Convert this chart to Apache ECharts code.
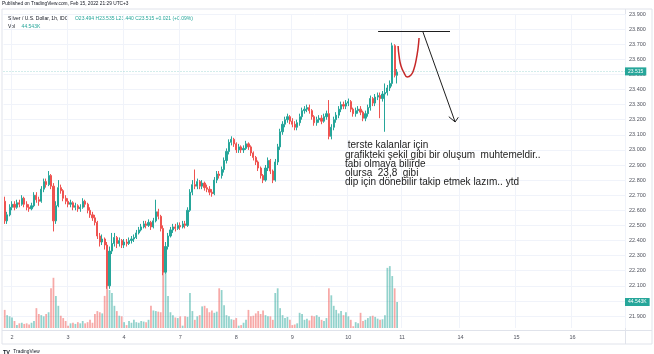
<!DOCTYPE html>
<html>
<head>
<meta charset="utf-8">
<script src="https://cdn.jsdelivr.net/npm/echarts@6/dist/echarts.min.js"></script>
<style>
html,body{margin:0;padding:0;background:#fff;}
#main{width:654px;height:354px;}
</style>
</head>
<body>
<div id="main"></div>
<script>
// Silver / U.S. Dollar, 1h, IDC - hourly candles
var firstOpen = 22.66
var closes = [
  22.53, 22.57, 22.62, 22.64, 22.62, 22.65, 22.64, 22.68, 22.64, 22.62,
  22.61, 22.63, 22.70, 22.67, 22.66, 22.74, 22.79, 22.77, 22.83, 22.76,
  22.53, 22.63, 22.75, 22.73, 22.68, 22.66, 22.64, 22.65, 22.62, 22.63,
  22.61, 22.62, 22.66, 22.64, 22.60, 22.57, 22.55, 22.52, 22.43, 22.39,
  22.41, 22.37, 22.10, 22.33, 22.38, 22.42, 22.38, 22.40, 22.37, 22.39,
  22.38, 22.40, 22.41, 22.42, 22.45, 22.47, 22.49, 22.51, 22.50, 22.52,
  22.49, 22.53, 22.59, 22.56, 22.48, 22.19, 22.36, 22.43, 22.47, 22.49,
  22.48, 22.50, 22.49, 22.51, 22.50, 22.60, 22.72, 22.77, 22.76, 22.79,
  22.76, 22.78, 22.75, 22.74, 22.72, 22.71, 22.80, 22.84, 22.83, 22.87,
  22.93, 22.99, 23.05, 23.07, 23.04, 23.00, 23.02, 23.00, 23.01, 23.04,
  23.02, 22.98, 22.95, 22.92, 22.88, 22.83, 22.80, 22.88, 22.93, 22.86,
  22.80, 22.92, 23.02, 23.12, 23.17, 23.20, 23.22, 23.19, 23.17, 23.15,
  23.18, 23.22, 23.26, 23.27, 23.28, 23.26, 23.22, 23.18, 23.20, 23.21,
  23.19, 23.22, 23.24, 23.09, 23.15, 23.20, 23.23, 23.27, 23.30, 23.29,
  23.31, 23.32, 23.27, 23.24, 23.26, 23.27, 23.25, 23.21, 23.24, 23.28,
  23.34, 23.31, 23.35, 23.36, 23.34, 23.37, 23.38, 23.41, 23.44, 23.69,
  23.494, 23.515
]
var highs = [
  22.69, 22.59, 22.64, 22.66, 22.66, 22.67, 22.67, 22.70, 22.69, 22.66,
  22.64, 22.65, 22.72, 22.72, 22.69, 22.76, 22.81, 22.81, 22.86, 22.84,
  22.78, 22.66, 22.80, 22.77, 22.74, 22.70, 22.68, 22.67, 22.66, 22.65,
  22.64, 22.64, 22.68, 22.67, 22.65, 22.62, 22.59, 22.57, 22.53, 22.45,
  22.44, 22.42, 22.39, 22.36, 22.45, 22.45, 22.43, 22.42, 22.41, 22.41,
  22.41, 22.42, 22.43, 22.44, 22.47, 22.49, 22.51, 22.53, 22.53, 22.54,
  22.53, 22.55, 22.67, 22.61, 22.57, 22.50, 22.39, 22.45, 22.49, 22.51,
  22.51, 22.52, 22.52, 22.53, 22.53, 22.62, 22.74, 22.80, 22.87, 22.81,
  22.80, 22.80, 22.79, 22.77, 22.76, 22.74, 22.82, 22.86, 22.86, 22.89,
  22.95, 23.01, 23.07, 23.09, 23.08, 23.05, 23.04, 23.03, 23.03, 23.06,
  23.05, 23.03, 22.99, 22.96, 22.93, 22.89, 22.84, 22.90, 22.95, 22.94,
  22.87, 22.94, 23.04, 23.14, 23.19, 23.22, 23.24, 23.23, 23.21, 23.19,
  23.20, 23.24, 23.28, 23.29, 23.30, 23.30, 23.27, 23.23, 23.22, 23.23,
  23.23, 23.24, 23.26, 23.33, 23.17, 23.22, 23.25, 23.29, 23.32, 23.32,
  23.33, 23.34, 23.33, 23.28, 23.28, 23.29, 23.29, 23.26, 23.26, 23.30,
  23.36, 23.35, 23.37, 23.38, 23.38, 23.39, 23.44, 23.43, 23.46, 23.71,
  23.70, 23.535
]
var lows = [
  22.51, 22.51, 22.56, 22.60, 22.60, 22.61, 22.62, 22.63, 22.62, 22.60,
  22.59, 22.60, 22.62, 22.65, 22.63, 22.65, 22.72, 22.75, 22.76, 22.74,
  22.46, 22.51, 22.62, 22.71, 22.66, 22.64, 22.62, 22.62, 22.60, 22.60,
  22.59, 22.59, 22.61, 22.62, 22.58, 22.55, 22.53, 22.50, 22.41, 22.36,
  22.37, 22.34, 22.08, 22.08, 22.31, 22.36, 22.35, 22.36, 22.35, 22.35,
  22.36, 22.37, 22.38, 22.39, 22.41, 22.44, 22.46, 22.48, 22.48, 22.49,
  22.47, 22.48, 22.52, 22.54, 22.46, 22.17, 22.18, 22.34, 22.42, 22.45,
  22.46, 22.47, 22.47, 22.48, 22.48, 22.49, 22.59, 22.70, 22.74, 22.74,
  22.74, 22.74, 22.73, 22.72, 22.70, 22.69, 22.70, 22.78, 22.81, 22.81,
  22.85, 22.91, 22.97, 23.03, 23.02, 22.98, 22.98, 22.98, 22.98, 23.00,
  23.00, 22.96, 22.93, 22.90, 22.86, 22.81, 22.78, 22.79, 22.86, 22.84,
  22.78, 22.79, 22.90, 23.00, 23.10, 23.15, 23.18, 23.17, 23.15, 23.13,
  23.13, 23.16, 23.20, 23.24, 23.25, 23.24, 23.20, 23.16, 23.16, 23.18,
  23.17, 23.18, 23.20, 23.07, 23.07, 23.13, 23.18, 23.21, 23.25, 23.27,
  23.27, 23.29, 23.25, 23.22, 23.22, 23.24, 23.23, 23.19, 23.19, 23.22,
  23.26, 23.29, 23.29, 23.33, 23.21, 23.32, 23.12, 23.36, 23.39, 23.42,
  23.48, 23.44
]
// volume in thousands
var volumes = [
  31, 22, 20, 18, 12, 5, 8, 9, 7, 8,
  6, 9, 12, 34, 24, 22, 20, 24, 27, 68,
  86, 55, 38, 21, 17, 12, 4, 8, 9, 7,
  10, 8, 12, 8, 10, 14, 9, 24, 29, 27,
  25, 55, 94, 65, 60, 38, 29, 21, 20, 10,
  5, 12, 9, 14, 10, 9, 12, 11, 10, 14,
  38, 30, 29, 28, 27, 99, 94, 55, 27, 22,
  18, 17, 20, 4, 20, 19, 60, 29, 14, 20,
  22, 37, 38, 34, 27, 30, 26, 28, 68, 65,
  39, 22, 20, 15, 14, 17, 4, 5, 9, 14,
  31, 20, 21, 25, 29, 24, 30, 22, 20, 20,
  14, 60, 68, 34, 22, 17, 19, 14, 5, 6,
  8, 26, 24, 14, 16, 13, 21, 20, 22, 19,
  14, 12, 17, 68, 56, 38, 31, 25, 29, 22,
  27, 20, 14, 3, 10, 8, 26, 12, 14, 17,
  20, 21, 19, 16, 14, 15, 22, 103, 106, 89,
  68, 44.543
]
var dayLabels = ['2', '3', '4', '7', '8', '9', '10', '11', '14', '15', '16']
var dayStart = [3, 26, 49, 72, 95, 118, 141, 163, 187, 210, 233]
var slotCount = 255
var priceMin = 21.9, priceMax = 23.9, priceStep = 0.1
var volMax = 171.3

// hand drawn marks on the chart
var topLine = [[153.2, 23.787], [182.7, 23.787]]
var arrowShaft = [[171.6, 23.781], [184.8, 23.185]]
var arrowWings = [[[182.2, 23.22], [184.8, 23.185]], [[186.1, 23.216], [184.8, 23.185]]]
var cupCurve = [[161.4, 23.688], [161.8, 23.622], [162.6, 23.556], [163.9, 23.509], [165.1, 23.483],
  [166.7, 23.496], [167.9, 23.536], [168.8, 23.595], [169.6, 23.675], [170.0, 23.741]]
var noteLines = [
  ' terste kalanlar için',
  'grafikteki şekil gibi bir oluşum  muhtemeldir..',
  'tabi olmaya bilirde',
  'olursa  23,8  gibi',
  'dip için dönebilir takip etmek lazım.. ytd'
]

var UP = '#26a69a', DOWN = '#ef5350'
var FONT = 'Liberation Sans'

var candles = []
var volBars = []
for (var i = 0; i < closes.length; i++) {
  var o = i === 0 ? firstOpen : closes[i - 1]
  candles.push([o, closes[i], lows[i], highs[i]])
  volBars.push({
    value: volumes[i],
    itemStyle: { color: closes[i] >= o ? 'rgba(38,166,154,0.5)' : 'rgba(239,83,80,0.5)' }
  })
}
var categories = []
var dayName = {}
for (var k = 0; k < slotCount; k++) categories.push(String(k))
dayStart.forEach(function (s, j) { dayName[s] = dayLabels[j] })
function isDay(idx) { return dayName[idx] !== undefined }

var last = closes.length - 1
var lastO = closes[last - 1], lastC = closes[last]
var chg = lastC - closes[last - 1]
var headerVals = 'O' + lastO.toFixed(3) + ' H' + highs[last].toFixed(3) + ' L' + lows[last].toFixed(3) +
  ' C' + lastC.toFixed(3) + ' ' + (chg >= 0 ? '+' : '') + chg.toFixed(3) +
  ' (' + (chg >= 0 ? '+' : '') + (chg / closes[last - 1] * 100).toFixed(2) + '%)'

var chart = echarts.init(document.getElementById('main'), null, { renderer: 'canvas' })

var gridLine = { show: true, lineStyle: { color: '#f0f3fa', width: 1 } }
var tagLabel = { position: 'end', distance: 0, color: '#fff', backgroundColor: UP, fontSize: 5, fontFamily: FONT, padding: [2, 3, 1, 3] }

// note text, one element per line
var noteGraphics = noteLines.map(function (t, j) {
  return {
    type: 'text', left: 345, top: 140.5 + j * 9.3, z: 100,
    style: { text: t, fontSize: 10, fill: '#222222', fontFamily: FONT }
  }
})

var option = {
  animation: false,
  backgroundColor: '#ffffff',
  grid: [
    { left: 3.5, right: 29, top: 14, height: 302 },
    { left: 3.5, right: 29, top: 228, height: 100 }
  ],
  xAxis: [
    {
      type: 'category', gridIndex: 0, data: categories,
      axisLine: { show: false }, axisTick: { show: false }, axisLabel: { show: false },
      splitLine: { show: true, interval: function (idx) { return isDay(idx) }, lineStyle: { color: '#f0f3fa' } }
    },
    {
      type: 'category', gridIndex: 1, data: categories,
      axisLine: { show: false }, axisTick: { show: false },
      splitLine: { show: true, interval: function (idx) { return isDay(idx) }, lineStyle: { color: '#f0f3fa' } },
      axisLabel: {
        interval: function (idx) { return isDay(idx) },
        formatter: function (v, idx) { return dayName[idx] || '' },
        fontSize: 5.5, color: '#50535e', fontFamily: FONT, margin: 6
      }
    },
    { type: 'value', gridIndex: 0, min: -0.5, max: slotCount - 0.5, show: false }
  ],
  yAxis: [
    {
      type: 'value', gridIndex: 0, position: 'right', min: priceMin, max: priceMax, interval: priceStep,
      axisLine: { show: false }, axisTick: { show: false },
      axisLabel: { formatter: function (v) { return v.toFixed(3) }, fontSize: 5.5, color: '#50535e', fontFamily: FONT, margin: 4 },
      splitLine: gridLine
    },
    { type: 'value', gridIndex: 1, min: 0, max: volMax, show: false }
  ],
  series: [
    {
      type: 'bar', xAxisIndex: 1, yAxisIndex: 1, data: volBars, barWidth: '72%',
      markLine: {
        silent: true, symbol: ['none', 'none'], z: 10,
        lineStyle: { color: 'rgba(0,0,0,0)', width: 0 },
        label: Object.assign({}, tagLabel, { formatter: volumes[last].toFixed(3) + 'K' }),
        data: [{ yAxis: volumes[last] }]
      }
    },
    {
      type: 'candlestick', xAxisIndex: 0, yAxisIndex: 0, data: candles, barWidth: '68%',
      itemStyle: { color: UP, color0: DOWN, borderColor: UP, borderColor0: DOWN, borderWidth: 1 },
      markLine: {
        silent: true, symbol: ['none', 'none'], z: 10,
        lineStyle: { color: 'rgba(38,166,154,0.4)', type: [1, 2], width: 1 },
        label: Object.assign({}, tagLabel, { formatter: lastC.toFixed(3) }),
        data: [{ yAxis: lastC }]
      }
    },
    {
      type: 'line', xAxisIndex: 2, yAxisIndex: 0, data: cupCurve, smooth: true, showSymbol: false,
      lineStyle: { color: '#c62828', width: 1.5 }, silent: true,
      markLine: {
        silent: true, symbol: ['none', 'none'], label: { show: false },
        lineStyle: { color: '#1e1e1e', width: 1, type: 'solid' },
        data: [
          [{ coord: topLine[0] }, { coord: topLine[1] }],
          [{ coord: arrowShaft[0] }, { coord: arrowShaft[1] }],
          [{ coord: arrowWings[0][0] }, { coord: arrowWings[0][1] }],
          [{ coord: arrowWings[1][0] }, { coord: arrowWings[1][1] }]
        ]
      }
    }
  ],
  graphic: [
    { type: 'rect', shape: { x: 2, y: 9, width: 650, height: 335 }, style: { fill: 'none', stroke: '#e0e3eb', lineWidth: 1 }, silent: true },
    { type: 'line', shape: { x1: 625.5, y1: 9, x2: 625.5, y2: 344 }, style: { stroke: '#e0e3eb', lineWidth: 1 }, silent: true },
    { type: 'line', shape: { x1: 2, y1: 330.5, x2: 652, y2: 330.5 }, style: { stroke: '#e0e3eb', lineWidth: 1 }, silent: true },
    { type: 'text', left: 2, top: 1.5, style: { text: 'Published on TradingView.com, Feb 15, 2022 21:29 UTC+3', fontSize: 4.8, fill: '#131722', fontFamily: FONT } },
    {
      type: 'text', left: 8, top: 13,
      style: {
        text: '{a|Silver / U.S. Dollar, 1h, IDC}  {b|' + headerVals + '}',
        fontFamily: FONT,
        rich: { a: { fontSize: 5, fill: '#131722', fontFamily: FONT }, b: { fontSize: 5, fill: UP, fontFamily: FONT } }
      }
    },
    {
      type: 'text', left: 8, top: 21,
      style: {
        text: '{a|Vol}  {b|' + volumes[last].toFixed(3) + 'K}',
        fontFamily: FONT,
        rich: { a: { fontSize: 5, fill: '#131722', fontFamily: FONT }, b: { fontSize: 5, fill: UP, fontFamily: FONT } }
      }
    },
    {
      type: 'text', left: 3, top: 346,
      style: {
        text: '{a|TV} {b|TradingView}',
        rich: { a: { fontSize: 5.5, fontWeight: 'bold', fill: '#131722', fontFamily: FONT }, b: { fontSize: 4.8, fill: '#131722', fontFamily: FONT } }
      }
    }
  ].concat(noteGraphics)
}

chart.setOption(option)
</script>
</body>
</html>
